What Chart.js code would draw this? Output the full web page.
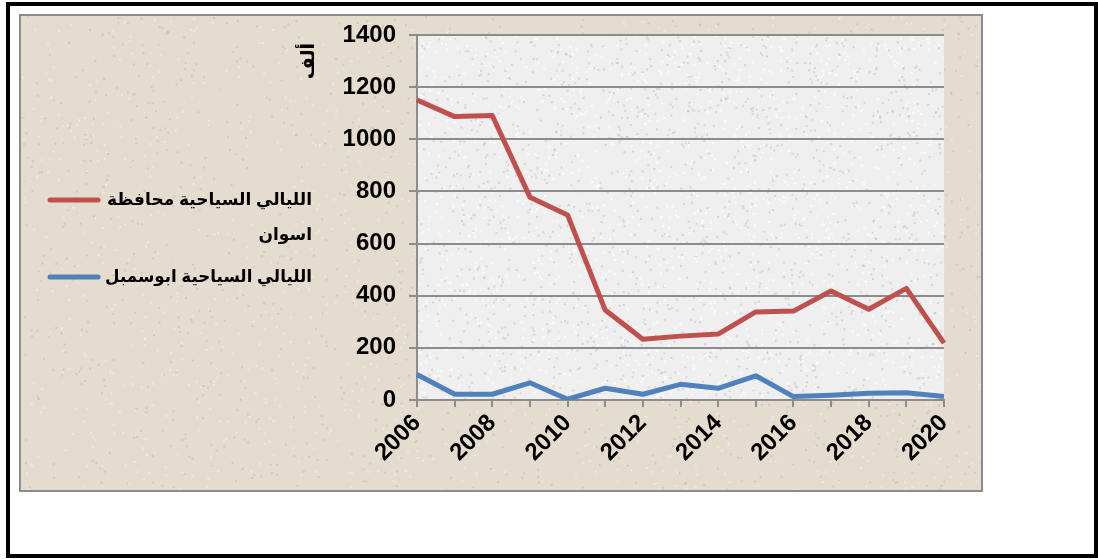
<!DOCTYPE html>
<html>
<head>
<meta charset="utf-8">
<script src="https://cdn.jsdelivr.net/npm/chart.js@4/dist/chart.umd.min.js"></script>
<style>
html,body{margin:0;padding:0;background:#fff;}
#wrap{position:absolute;left:0;top:0;width:1098px;height:559px;}
</style>
</head>
<body>
<div id="wrap"><canvas id="c" width="1098" height="559"></canvas></div>
<script>
const years = ['2006','2007','2008','2009','2010','2011','2012','2013','2014','2015','2016','2017','2018','2019','2020'];
const aswanNights = [1151,1087,1091,778,710,345,233,245,253,338,341,418,348,428,218];
const abuSimbelNights = [98,22,22,66,3,45,22,60,45,93,13,18,26,28,13];
const seriesNames = ['الليالي السياحية محافظة اسوان','الليالي السياحية ابوسمبل'];
const yAxisTitle = 'ألف';
const yMin = 0, yMax = 1400, yStep = 200;

const FONT = '"Liberation Sans", Arial, "DejaVu Sans", sans-serif';

function hash(i){ let x = Math.sin(i*12.9898+78.233)*43758.5453; return x - Math.floor(x); }

const framePlugin = {
  id:'frame',
  beforeDraw(chart){
    const ctx = chart.ctx, a = chart.chartArea;
    ctx.save();
    ctx.fillStyle = '#fff';
    ctx.fillRect(0,0,chart.width,chart.height);
    ctx.strokeStyle = '#000'; ctx.lineWidth = 4;
    ctx.strokeRect(8,4,1088,552);
    ctx.fillStyle = '#e4dccf';
    ctx.fillRect(20,15,962,476);
    for(let i=0;i<2600;i++){
      const x = 21 + hash(i)*960, y = 16 + hash(i+5000)*474;
      ctx.fillStyle = hash(i+9000) > 0.5 ? 'rgba(255,255,255,0.35)' : 'rgba(160,150,135,0.25)';
      ctx.fillRect(x,y,2,2);
    }
    ctx.strokeStyle = '#8c8c8c'; ctx.lineWidth = 2;
    ctx.strokeRect(20,15,962,476);
    ctx.fillStyle = '#efefef';
    ctx.fillRect(a.left, a.top, a.right-a.left, a.bottom-a.top);
    for(let i=0;i<3000;i++){
      const x = a.left + hash(i+20000)*(a.right-a.left-2), y = a.top + hash(i+30000)*(a.bottom-a.top-2);
      ctx.fillStyle = hash(i+40000) > 0.45 ? 'rgba(255,255,255,0.7)' : 'rgba(170,170,170,0.35)';
      ctx.fillRect(x,y,2,2);
    }
    ctx.restore();
  },
  afterDraw(chart){
    const ctx = chart.ctx;
    ctx.save();
    ctx.translate(309,61);
    ctx.rotate(-Math.PI/2);
    ctx.fillStyle = '#000';
    ctx.font = 'bold 19px ' + FONT;
    ctx.textAlign = 'center'; ctx.textBaseline = 'middle';
    ctx.fillText(yAxisTitle,0,0);
    ctx.restore();
    ctx.save();
    ctx.font = 'bold 17px ' + FONT;
    ctx.textAlign = 'right'; ctx.textBaseline = 'middle';
    ctx.fillStyle = '#000';
    const textRight = 312, wrapW = 240, fitW = 207, lineH = 35;
    let y = 200;
    chart.data.datasets.forEach((ds) => {
      const words = ds.label.split(' ');
      const lines = []; let cur = '';
      words.forEach(w => {
        const t = cur ? cur + ' ' + w : w;
        if (ctx.measureText(t).width > wrapW && cur) { lines.push(cur); cur = w; } else cur = t;
      });
      if (cur) lines.push(cur);
      ctx.strokeStyle = ds.borderColor; ctx.lineWidth = 5; ctx.lineCap = 'round';
      ctx.beginPath(); ctx.moveTo(50,y); ctx.lineTo(98,y); ctx.stroke();
      lines.forEach((ln,k) => ctx.fillText(ln, textRight, y + k*lineH, fitW));
      y += lines.length*lineH + 7;
    });
    ctx.restore();
  }
};

new Chart(document.getElementById('c'), {
  type:'line',
  data:{
    labels: years,
    datasets:[
      {label: seriesNames[0], data: aswanNights, borderColor:'#c0504d', backgroundColor:'#c0504d', borderWidth:5, pointRadius:0, tension:0, borderJoinStyle:'round'},
      {label: seriesNames[1], data: abuSimbelNights, borderColor:'#4f81bd', backgroundColor:'#4f81bd', borderWidth:5, pointRadius:0, tension:0, borderJoinStyle:'round'}
    ]
  },
  options:{
    responsive:false,
    animation:false,
    devicePixelRatio:1,
    layout:{padding:{left:330, right:154, top:35, bottom:59}},
    plugins:{legend:{display:false}, tooltip:{enabled:false}},
    scales:{
      x:{
        afterFit(s){ s.height = 100; },
        grid:{display:true, drawOnChartArea:false, drawTicks:true, tickLength:7, color:'#8c8c8c', lineWidth:2},
        border:{display:true, color:'#8c8c8c', width:2},
        ticks:{autoSkip:false, minRotation:45, maxRotation:45, padding:2, color:'#000',
               font:{family:FONT, size:24, weight:'bold'},
               callback(v,i){ return i%2===0 ? years[i] : ''; }}
      },
      y:{
        min:yMin, max:yMax,
        afterFit(s){ s.width = 87; },
        grid:{color:'#8c8c8c', lineWidth:2, tickLength:8},
        border:{display:true, color:'#8c8c8c', width:2},
        ticks:{stepSize:yStep, padding:13, color:'#000', font:{family:FONT, size:24, weight:'bold'},
               callback(v){ return String(v); }}
      }
    }
  },
  plugins:[framePlugin]
});
</script>
</body>
</html>
